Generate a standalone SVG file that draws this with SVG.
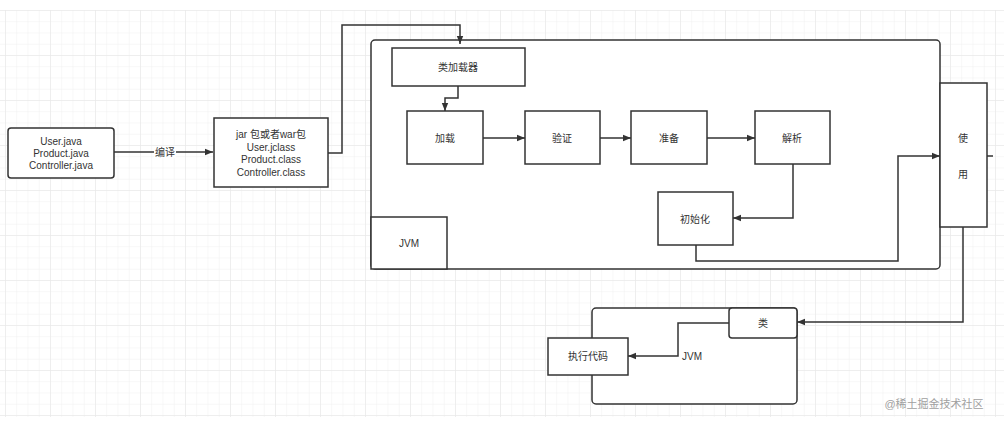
<svg xmlns="http://www.w3.org/2000/svg" width="1004" height="422" viewBox="0 0 1004 422">
<style>
.n{fill:#fff;stroke:#333;stroke-width:1.5}
.e{fill:none;stroke:#333;stroke-width:1.5}
text{font-family:"Liberation Sans","Noto Sans CJK SC",sans-serif;font-size:10px;fill:#333;text-anchor:middle;dominant-baseline:central}
</style>
<defs>
<pattern id="gmin" x="5" y="10" width="11.25" height="11.25" patternUnits="userSpaceOnUse">
<path d="M0 0V11.25M0 0H11.25" stroke="#f0f0f0" stroke-width="1" fill="none"/>
</pattern>
<pattern id="gmaj" x="5" y="10" width="45" height="45" patternUnits="userSpaceOnUse">
<path d="M0 0V45M0 0H45" stroke="#e6e6e6" stroke-width="1" fill="none"/>
</pattern>
<marker id="ar" viewBox="0 0 10 10" refX="10" refY="5" markerWidth="8" markerHeight="8" markerUnits="userSpaceOnUse" orient="auto">
<path d="M0 1L10 5L0 9Z" fill="#333"/>
</marker>
</defs>
<rect width="1004" height="422" fill="#fff"/>
<rect x="0" y="10" width="1004" height="407" fill="url(#gmin)"/>
<rect x="0" y="10" width="1004" height="407" fill="url(#gmaj)"/>

<g id="jvm-container"><rect class="n" x="371" y="40" width="569" height="229" rx="4"/></g>
<g id="jvm-label"><rect class="n" x="371" y="217" width="76" height="52"/><text x="409" y="243">JVM</text></g>
<g id="jvm-run"><rect class="n" x="592" y="308" width="205" height="96" rx="4"/></g>

<g id="connectors">
<path class="e" d="M114 152H213" marker-end="url(#ar)"/>
<rect x="154" y="146" width="22" height="12" fill="#fff"/>
<text x="165" y="152">编译</text>
<path class="e" d="M328 153H342V25H460V44" marker-end="url(#ar)"/>
<path class="e" d="M458 86V98H445V111" marker-end="url(#ar)"/>
<path class="e" d="M483 138H525" marker-end="url(#ar)"/>
<path class="e" d="M600 138H631" marker-end="url(#ar)"/>
<path class="e" d="M707 138H755" marker-end="url(#ar)"/>
<path class="e" d="M793 164V218H733" marker-end="url(#ar)"/>
<path class="e" d="M696 245V261H898V156H940" marker-end="url(#ar)"/>
<path class="e" d="M987 156H993"/>
<path class="e" d="M963 227V322H797" marker-end="url(#ar)"/>
<path class="e" d="M729 323H678V356H628" marker-end="url(#ar)"/>
<text x="692" y="356">JVM</text>
</g>

<g id="src"><rect class="n" x="8" y="128" width="106" height="50" rx="3"/>
<text x="61" y="141">User.java</text><text x="61" y="153">Product.java</text><text x="61" y="165">Controller.java</text></g>
<g id="jar"><rect class="n" x="214" y="118" width="114" height="69"/>
<text x="271" y="134">jar 包或者war包</text><text x="271" y="147">User.jclass</text><text x="271" y="159.5">Product.class</text><text x="271" y="172">Controller.class</text></g>
<g id="classloader"><rect class="n" x="392" y="48" width="133" height="38"/><text x="458" y="67">类加载器</text></g>
<g id="load"><rect class="n" x="407" y="111" width="76" height="53"/><text x="445" y="138">加载</text></g>
<g id="verify"><rect class="n" x="525" y="111" width="75" height="53"/><text x="562" y="138">验证</text></g>
<g id="prepare"><rect class="n" x="631" y="111" width="76" height="53"/><text x="669" y="138">准备</text></g>
<g id="resolve"><rect class="n" x="755" y="111" width="75" height="53"/><text x="792" y="138">解析</text></g>
<g id="init"><rect class="n" x="658" y="192" width="75" height="53"/><text x="695" y="219">初始化</text></g>
<g id="use"><rect class="n" x="940" y="83" width="47" height="144"/><text x="963" y="138">使</text><text x="963" y="174">用</text></g>
<g id="class"><rect class="n" x="729" y="308" width="68" height="30" rx="3"/><text x="763" y="323">类</text></g>
<g id="exec"><rect class="n" x="548" y="338" width="80" height="37"/><text x="588" y="356">执行代码</text></g>
<text x="934" y="404" style="fill:#a0a0a0;font-size:11px">@稀土掘金技术社区</text>
</svg>
